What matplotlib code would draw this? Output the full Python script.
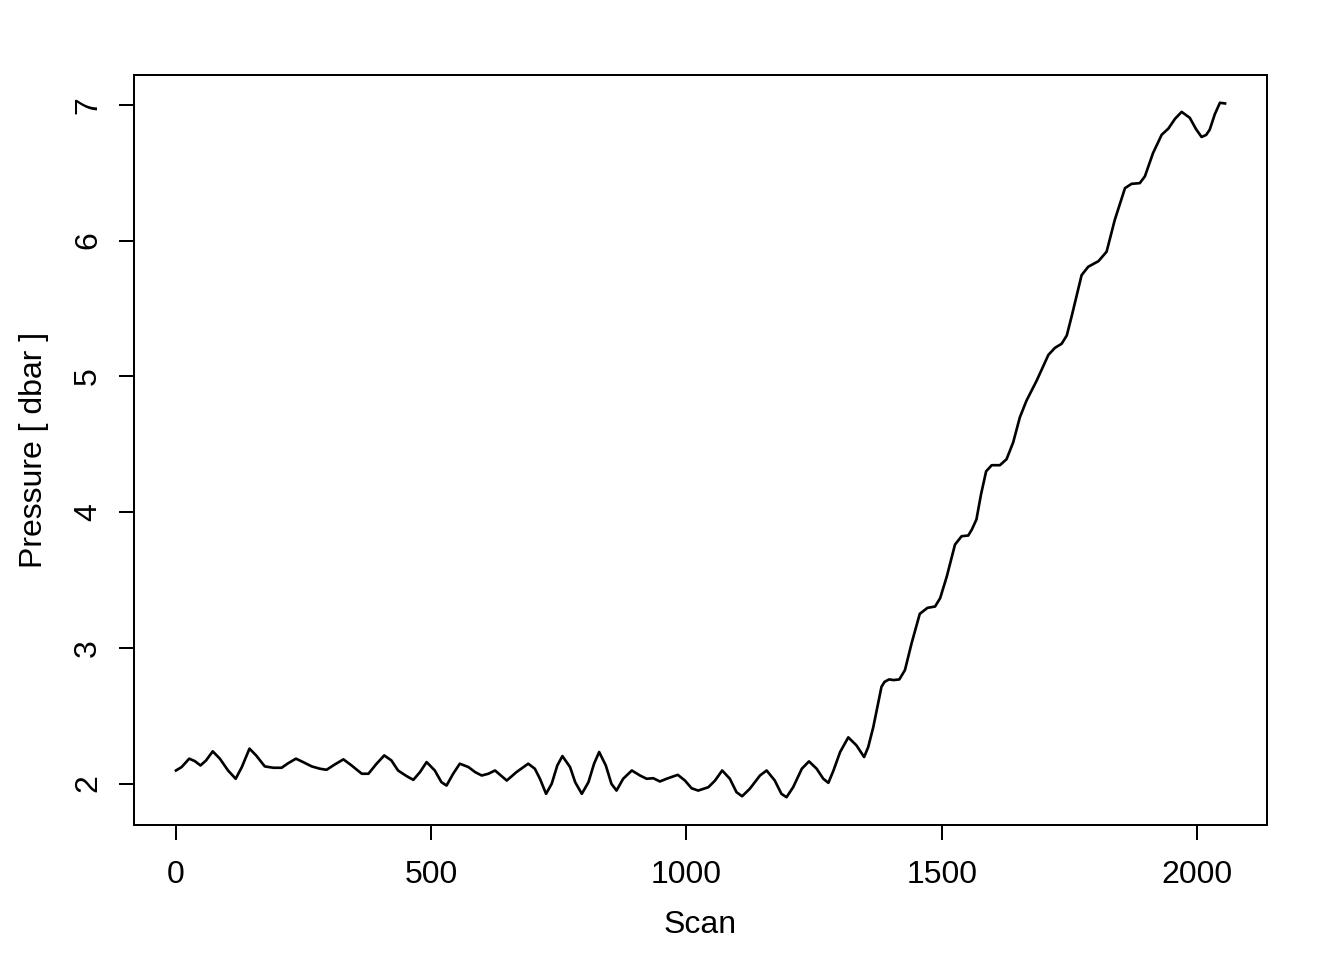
import numpy as np
import matplotlib
matplotlib.use("Agg")
import matplotlib.pyplot as plt

plt.rcParams.update({'font.family': ['Liberation Sans', 'DejaVu Sans'],
                     'font.size': 12,
                     'axes.linewidth': 0.75,
                     'xtick.major.width': 0.75,
                     'ytick.major.width': 0.75,
                     'xtick.major.size': 5.6,
                     'ytick.major.size': 5.6})

# values
scan = [0, 11, 26, 37, 48, 59, 72, 86, 102, 117, 129, 144, 157, 174, 191, 207,
        220, 235, 249, 266, 282, 295, 311, 328, 344, 364, 377, 393, 408, 422,
        435, 452, 465, 478, 491, 507, 520, 530, 543, 556, 573, 586, 599, 612,
        625, 635, 648, 667, 690, 703, 713, 725, 736, 747, 757, 772, 782, 795,
        808, 819, 829, 842, 853, 863, 876, 893, 909, 922, 935, 948, 961, 970,
        983, 997, 1010, 1023, 1043, 1056, 1070, 1085, 1098, 1109, 1124, 1144,
        1157, 1173, 1186, 1196, 1209, 1226, 1240, 1255, 1268, 1278, 1288, 1301,
        1317, 1333, 1348, 1356, 1366, 1374, 1382, 1388, 1397, 1406, 1417, 1428,
        1441, 1457, 1472, 1487, 1497, 1510, 1526, 1539, 1552, 1559, 1568, 1577,
        1587, 1598, 1614, 1627, 1640, 1653, 1666, 1686, 1709, 1722, 1735, 1745,
        1755, 1774, 1787, 1807, 1823, 1839, 1859, 1872, 1888, 1898, 1914, 1931,
        1944, 1957, 1970, 1986, 1998, 2009, 2018, 2025, 2035, 2045, 2055]
pressure = [2.096, 2.121, 2.183, 2.165, 2.133, 2.170, 2.237, 2.183, 2.096, 2.035,
            2.121, 2.257, 2.207, 2.126, 2.116, 2.116, 2.150, 2.183, 2.158, 2.126,
            2.109, 2.101, 2.140, 2.178, 2.133, 2.072, 2.072, 2.146, 2.207, 2.170,
            2.096, 2.054, 2.027, 2.084, 2.158, 2.096, 2.010, 1.985, 2.072, 2.146,
            2.121, 2.084, 2.059, 2.072, 2.096, 2.064, 2.022, 2.084, 2.146, 2.109,
            2.035, 1.924, 1.998, 2.133, 2.202, 2.121, 2.010, 1.924, 2.010, 2.146,
            2.232, 2.133, 1.998, 1.948, 2.035, 2.096, 2.059, 2.035, 2.039, 2.015,
            2.035, 2.047, 2.064, 2.022, 1.965, 1.948, 1.973, 2.022, 2.096, 2.035,
            1.936, 1.906, 1.961, 2.059, 2.096, 2.022, 1.924, 1.899, 1.973, 2.109,
            2.163, 2.109, 2.035, 2.005, 2.096, 2.232, 2.340, 2.281, 2.195, 2.268,
            2.416, 2.564, 2.712, 2.749, 2.767, 2.762, 2.767, 2.836, 3.033, 3.250,
            3.294, 3.304, 3.366, 3.526, 3.760, 3.822, 3.827, 3.871, 3.945, 4.130,
            4.300, 4.345, 4.345, 4.389, 4.513, 4.697, 4.820, 4.968, 5.158, 5.210,
            5.240, 5.301, 5.449, 5.745, 5.807, 5.848, 5.918, 6.152, 6.386, 6.418,
            6.423, 6.473, 6.645, 6.780, 6.825, 6.897, 6.948, 6.904, 6.822, 6.763,
            6.778, 6.817, 6.931, 7.015, 7.010]

xticks = [0, 500, 1000, 1500, 2000]
yticks = [2, 3, 4, 5, 6, 7]

fig = plt.figure(figsize=(7, 5), dpi=192)
ax = fig.add_axes([134/1344, 135/960, (1267-134)/1344, (825-75)/960])
ax.plot(scan, pressure, color='k', lw=1.0, solid_joinstyle='round')
ax.margins(x=0.04, y=0.04)
ax.set_xticks(xticks)
ax.set_yticks(yticks)
ax.tick_params(axis='x', pad=7.5)
ax.tick_params(axis='y', pad=6, labelrotation=90)
for lab in ax.get_yticklabels():
    lab.set_va('center')
ax.set_xlabel("Scan", labelpad=7.5)
ax.set_ylabel("Pressure [ dbar ]", labelpad=9)

fig.savefig("out.png", dpi=192)
